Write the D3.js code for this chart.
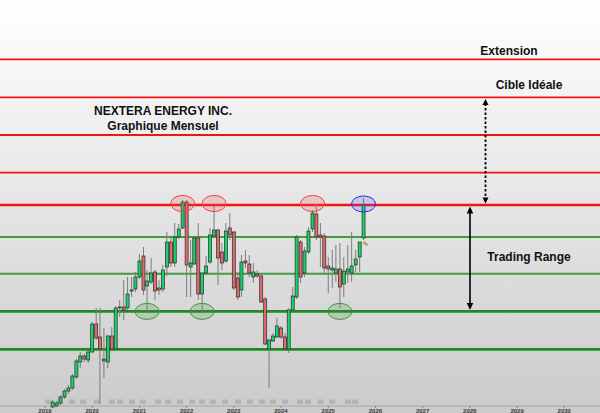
<!DOCTYPE html>
<html>
<head>
<meta charset="utf-8">
<script src="https://cdn.jsdelivr.net/npm/d3@7"></script>
<style>
  html, body { margin: 0; padding: 0; background: #fff; overflow: hidden; }
  svg { display: block; }
</style>
</head>
<body>
<svg id="chart" width="600" height="413"></svg>
<script>
// Monthly candles, NextEra Energy (NEE)
const months = [
  "2019-03","2019-04","2019-05","2019-06","2019-07","2019-08","2019-09","2019-10","2019-11","2019-12",
  "2020-01","2020-02","2020-03","2020-04","2020-05","2020-06","2020-07","2020-08","2020-09","2020-10","2020-11","2020-12",
  "2021-01","2021-02","2021-03","2021-04","2021-05","2021-06","2021-07","2021-08","2021-09","2021-10","2021-11","2021-12",
  "2022-01","2022-02","2022-03","2022-04","2022-05","2022-06","2022-07","2022-08","2022-09","2022-10","2022-11","2022-12",
  "2023-01","2023-02","2023-03","2023-04","2023-05","2023-06","2023-07","2023-08","2023-09","2023-10","2023-11","2023-12",
  "2024-01","2024-02","2024-03","2024-04","2024-05","2024-06","2024-07","2024-08","2024-09","2024-10","2024-11","2024-12",
  "2025-01","2025-02","2025-03","2025-04","2025-05","2025-06","2025-07","2025-08","2025-09","2025-10"
];
const opens = [
  41.5, 41.75, 42.5, 44.0, 45.5, 46.25, 49.0, 52.75, 54.25, 53.25,
  55.25, 62.25, 59.0, 53.0, 52.75, 59.25, 56.0, 66.25, 66.5, 66.25, 70.5, 71.0,
  74.0, 79.25, 71.75, 72.75, 75.25, 71.25, 71.0, 76.5, 82.75, 77.5, 84.0, 86.25,
  92.75, 76.5, 77.25, 83.75, 69.75, 75.0, 77.75, 84.25, 85.75, 80.25, 78.0, 86.25,
  85.25, 73.75, 70.75, 78.0, 77.25, 74.0, 74.75, 74.25, 68.5, 56.0, 58.0, 59.0,
  61.25, 59.0, 56.0, 65.75, 69.0, 82.75, 75.0, 80.25, 86.0, 89.75, 84.5, 84.25,
  76.75, 75.75, 75.0, 76.0, 72.25, 75.25, 75.0, 77.0, 79.0, 83.75
];
const highs = [
  43.25, 43.0, 44.5, 46.0, 47.0, 49.75, 53.5, 55.25, 54.75, 55.75,
  62.75, 66.25, 66.25, 61.25, 59.5, 61.5, 66.75, 68.25, 73.25, 74.0, 74.0, 75.25,
  79.75, 81.5, 75.75, 78.75, 75.75, 73.25, 77.0, 85.25, 83.75, 87.5, 87.25, 93.25,
  93.25, 83.25, 84.0, 87.5, 75.0, 79.25, 86.25, 91.75, 86.0, 82.5, 87.5, 90.0,
  85.5, 75.25, 79.5, 80.75, 79.5, 77.5, 75.75, 75.0, 69.0, 58.5, 60.0, 63.75,
  61.75, 60.0, 66.25, 71.5, 84.5, 83.25, 81.5, 86.5, 90.75, 92.25, 87.5, 85.0,
  79.0, 80.75, 82.0, 82.5, 79.0, 82.0, 85.25, 80.75, 82.75, 93.75
];
const lows = [
  41.25, 41.5, 42.0, 43.5, 44.75, 45.75, 48.5, 51.25, 52.75, 52.5,
  55.0, 58.25, 42.25, 48.75, 51.25, 55.75, 55.75, 64.0, 63.25, 65.75, 69.0, 70.25,
  73.5, 69.5, 65.5, 72.25, 68.25, 69.5, 70.25, 74.25, 76.5, 76.5, 83.5, 86.0,
  69.0, 69.0, 77.0, 68.25, 65.25, 74.5, 77.25, 83.75, 72.0, 75.75, 77.5, 83.25,
  70.75, 68.25, 69.0, 76.25, 74.0, 72.5, 73.75, 67.5, 57.0, 46.25, 57.75, 58.75,
  58.5, 55.5, 55.0, 65.25, 68.5, 72.5, 74.0, 79.75, 85.25, 83.25, 76.5, 75.0,
  70.0, 71.25, 72.75, 66.25, 69.0, 72.5, 72.75, 75.25, 75.25, 83.25
];
const closes = [
  42.75, 42.5, 44.0, 45.5, 46.25, 49.25, 53.0, 54.25, 53.5, 55.25,
  62.25, 58.75, 56.0, 53.5, 59.25, 56.0, 66.25, 66.5, 65.75, 69.75, 70.75, 74.0,
  78.0, 70.75, 73.0, 75.0, 70.5, 70.75, 75.75, 82.75, 77.5, 84.0, 86.0, 92.75,
  77.0, 77.5, 83.75, 69.75, 75.0, 76.75, 84.5, 85.75, 78.75, 77.5, 85.5, 84.5,
  71.25, 69.0, 77.75, 77.5, 75.0, 75.25, 74.25, 67.75, 57.25, 58.25, 59.25, 61.75,
  59.0, 56.0, 65.75, 69.25, 84.0, 74.0, 80.5, 85.5, 90.0, 84.0, 84.0, 76.25,
  76.0, 76.25, 76.0, 71.5, 75.5, 76.0, 76.75, 78.5, 82.75, 92.0
];

// Horizontal levels
const resistanceLevels = [128.4, 118.9, 109.5, 100.1, 92.0];
const supportLevels = [84.0, 74.8, 65.4, 55.9];

// Touches of the range boundaries
const topTouches = ["2021-12", "2022-08", "2024-09"];
const currentTouch = "2025-10";
const bottomTouches = ["2021-03", "2022-05", "2025-04"];

// Dividend markers along the time axis
const dividendDates = [
  "2019-01-25","2019-04-25","2019-07-28","2019-10-22","2020-02-06","2020-06-01","2020-08-04","2020-11-04",
  "2021-01-28","2021-05-25","2021-08-10","2021-11-12","2022-02-12","2022-05-01","2022-07-22","2022-10-25",
  "2023-02-03","2023-05-06","2023-08-06","2023-11-01","2024-02-03","2024-05-28","2024-07-28","2024-11-01",
  "2025-02-01","2025-06-04","2025-07-28"
];

const yearTicks = ["2019","2020","2021","2022","2023","2024","2025","2026","2027","2028","2029","2030"];

(function () {
  const W = 600, H = 413;
  const svg = d3.select("#chart");
  const parseMonth = d3.utcParse("%Y-%m");
  const parseDay = d3.utcParse("%Y-%m-%d");
  const parseYear = d3.utcParse("%Y");

  const x = d3.scaleUtc()
    .domain([parseYear("2019"), parseYear("2031")])
    .range([45, 611.4]);
  const y = d3.scaleLinear().domain([40, 143.25]).range([H, 0]);

  const candles = months.map((m, i) => ({
    date: parseMonth(m), o: opens[i], h: highs[i], l: lows[i], c: closes[i]
  }));

  // Background
  const defs = svg.append("defs");
  const grad = defs.append("linearGradient").attr("id", "bg")
    .attr("x1", 0).attr("y1", 0).attr("x2", 0).attr("y2", 1);
  grad.append("stop").attr("offset", "0%").attr("stop-color", "#ffffff");
  grad.append("stop").attr("offset", "100%").attr("stop-color", "#cbcbcb");
  svg.append("rect").attr("width", W).attr("height", H).attr("fill", "url(#bg)");

  // Level lines
  svg.append("g").selectAll("line").data(resistanceLevels).join("line")
    .attr("x1", 0).attr("x2", W)
    .attr("y1", d => y(d)).attr("y2", d => y(d))
    .attr("stroke", "#ee1515")
    .attr("stroke-width", (d, i) => i === resistanceLevels.length - 1 ? 2.4 : 1.8);

  svg.append("g").selectAll("line").data(supportLevels).join("line")
    .attr("x1", 0).attr("x2", W)
    .attr("y1", d => y(d)).attr("y2", d => y(d))
    .attr("stroke", (d, i) => i < 2 ? "#3f9f3f" : "#1f8a1f")
    .attr("stroke-width", (d, i) => i < 2 ? 2 : 2.8);

  // Time axis
  const axisY = 406;
  svg.append("line").attr("x1", 0).attr("x2", W).attr("y1", axisY).attr("y2", axisY)
    .attr("stroke", "#a9a9a9").attr("stroke-width", 1);
  const ticks = svg.append("g");
  ticks.selectAll("line").data(yearTicks).join("line")
    .attr("x1", d => x(parseYear(d))).attr("x2", d => x(parseYear(d)))
    .attr("y1", axisY).attr("y2", axisY + 2)
    .attr("stroke", "#888");
  ticks.selectAll("text").data(yearTicks).join("text")
    .attr("x", d => x(parseYear(d))).attr("y", 412.5)
    .attr("text-anchor", "middle")
    .attr("font-family", "Liberation Sans, Arial, sans-serif")
    .attr("font-size", 6).attr("font-weight", "bold").attr("fill", "#3a3a3a")
    .text(d => d);

  // Dividend markers
  const div = svg.append("g").selectAll("g").data(dividendDates).join("g")
    .attr("transform", d => `translate(${x(parseDay(d))},0)`);
  div.append("rect").attr("x", -3).attr("y", 399.5).attr("width", 6).attr("height", 2.5)
    .attr("fill", "#8fb4e6").attr("opacity", 0.85);
  div.append("rect").attr("x", -3).attr("y", 402).attr("width", 6).attr("height", 2)
    .attr("fill", "#c9b06a").attr("opacity", 0.85);

  // Candles
  const cg = svg.append("g");
  cg.selectAll("line").data(candles).join("line")
    .attr("x1", d => x(d.date)).attr("x2", d => x(d.date))
    .attr("y1", d => y(d.h)).attr("y2", d => y(d.l))
    .attr("stroke", "#7c7c7c").attr("stroke-width", 1);
  cg.selectAll("rect").data(candles).join("rect")
    .attr("x", d => x(d.date) - 1.5).attr("width", 3)
    .attr("y", d => y(Math.max(d.o, d.c)))
    .attr("height", d => Math.max(1, Math.abs(y(d.o) - y(d.c))))
    .attr("fill", d => d.c >= d.o ? "#18d36a" : "#e06b6b")
    .attr("stroke", "#2a2a2a").attr("stroke-width", 0.7);

  // Small marker under the last candle
  const last = candles[candles.length - 1];
  svg.append("rect").attr("x", x(last.date) - 0.5).attr("y", y(last.l) + 1.5)
    .attr("width", 3).attr("height", 3).attr("fill", "#f0a030");
  svg.append("rect").attr("x", x(last.date) + 2).attr("y", y(last.l) + 3.5)
    .attr("width", 2).attr("height", 2).attr("fill", "#5a8fe0");

  // Ellipses on range touches
  const rangeTop = resistanceLevels[resistanceLevels.length - 1];
  const rangeLow = supportLevels[2];
  function ellipses(dates, level, fill, stroke, dy) {
    svg.append("g").selectAll("ellipse").data(dates).join("ellipse")
      .attr("cx", d => x(parseMonth(d)))
      .attr("cy", y(level) + dy)
      .attr("rx", 12).attr("ry", 8)
      .attr("fill", fill).attr("stroke", stroke).attr("stroke-width", 1);
  }
  ellipses(topTouches, rangeTop, "rgba(240,90,90,0.22)", "#f04040", -1.5);
  ellipses([currentTouch], rangeTop, "rgba(90,90,240,0.22)", "#2a2af0", -1);
  ellipses(bottomTouches, rangeLow, "rgba(60,150,60,0.22)", "#3c963c", 0);

  // Arrows
  function arrowHead(cx, tipY, dir, w, h) {
    // dir: -1 points up, +1 points down
    svg.append("path")
      .attr("d", `M${cx},${tipY} L${cx - w / 2},${tipY - dir * h} L${cx + w / 2},${tipY - dir * h} Z`)
      .attr("fill", "#000");
  }
  const xDot = 485.5, xSolid = 470;
  const yTarget = y(resistanceLevels[1]);
  const yTop = y(rangeTop);
  const yLow = y(rangeLow);
  svg.append("line").attr("x1", xDot).attr("x2", xDot)
    .attr("y1", yTarget + 6).attr("y2", yTop - 6)
    .attr("stroke", "#000").attr("stroke-width", 1.8).attr("stroke-dasharray", "2.5,2");
  arrowHead(xDot, yTarget + 1.5, -1, 6, 6);
  arrowHead(xDot, yTop - 1.5, 1, 6, 6);

  svg.append("line").attr("x1", xSolid).attr("x2", xSolid)
    .attr("y1", yTop + 6).attr("y2", yLow - 6)
    .attr("stroke", "#000").attr("stroke-width", 1.6);
  arrowHead(xSolid, yTop + 1.5, -1, 6.5, 7);
  arrowHead(xSolid, yLow - 1.5, 1, 6.5, 7);

  // Labels
  const font = "Liberation Sans, Arial, sans-serif";
  function label(txt, cx, by) {
    svg.append("text").attr("x", cx).attr("y", by)
      .attr("text-anchor", "middle")
      .attr("font-family", font).attr("font-size", 12).attr("font-weight", "bold")
      .attr("fill", "#111").text(txt);
  }
  label("Extension", 509, y(resistanceLevels[0]) - 4.5);
  label("Cible Idéale", 529, y(resistanceLevels[1]) - 8.5);
  label("Trading Range", 529, 260.5);
  label("NEXTERA ENERGY INC.", 163, 115);
  label("Graphique Mensuel", 163, 129.5);
})();
</script>
</body>
</html>
